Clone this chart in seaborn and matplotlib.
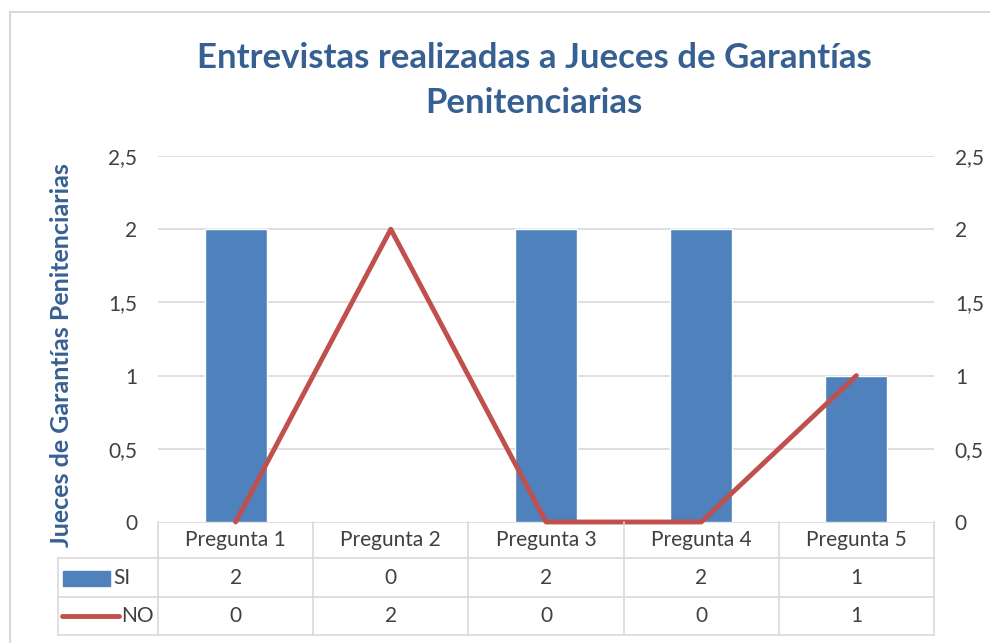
import numpy as np
import pandas as pd
import matplotlib
matplotlib.use("Agg")
import matplotlib.pyplot as plt
import seaborn as sns
from matplotlib.lines import Line2D
from matplotlib.patches import Rectangle

preguntas = ["Pregunta 1", "Pregunta 2", "Pregunta 3", "Pregunta 4", "Pregunta 5"]
si = [2, 0, 2, 2, 1]
no = [0, 2, 0, 0, 1]
yticks = [0, 0.5, 1, 1.5, 2, 2.5]
ytick_labels = ["0", "0,5", "1", "1,5", "2", "2,5"]

azul = "#4F81BD"
rojo = "#C0504D"
titulo_col = "#376092"
gris = "#D9D9D9"
texto = "#404040"

sns.set_style("white")
plt.rcParams["font.family"] = ["Lato", "DejaVu Sans"]

W, H = 990, 643
fig = plt.figure(figsize=(9.9, 6.43), dpi=100)
x0, x1, ybot, ytop = 158, 934, 522, 156
ax = fig.add_axes([x0 / W, 1 - ybot / H, (x1 - x0) / W, (ybot - ytop) / H])

df = pd.DataFrame({"pregunta": preguntas, "SI": si, "NO": no})
sns.barplot(data=df, x="pregunta", y="SI", color=azul, width=0.4, saturation=1, ax=ax)
ax.set_ylim(0, 2.5)
ax.set_xlim(-0.5, len(preguntas) - 0.5)
ax.set_yticks(yticks)
ax.set_yticklabels(ytick_labels, fontsize=15, color=texto)
ax.set_xticks([])
ax.set_xlabel("")
ax.set_ylabel("")
ax.tick_params(axis="y", length=0, pad=15)
for y in yticks[1:]:
    ax.axhline(y, color=gris, lw=1.2, zorder=0)
for s in ax.spines.values():
    s.set_visible(False)

ax2 = ax.twinx()
sns.lineplot(x=np.arange(len(no)), y=no, color=rojo, lw=3.5, ax=ax2)
for ln in ax2.lines:
    ln.set_clip_on(False)
ax2.set_ylim(0, 2.5)
ax2.set_yticks(yticks)
ax2.set_yticklabels(ytick_labels, fontsize=15, color=texto)
ax2.tick_params(axis="y", length=0, pad=15)
for s in ax2.spines.values():
    s.set_visible(False)

# tabla de datos
def fx(px):
    return px / W

def fy(py):
    return 1 - py / H

col_edges = np.linspace(x0, x1, len(preguntas) + 1)
rows = [522, 558, 597, 635]
leg_x = 58
lkw = dict(color=gris, lw=1.2, transform=fig.transFigure)
fig.add_artist(Line2D([fx(x0), fx(x1)], [fy(rows[0])] * 2, zorder=0, **lkw))
for r in rows[1:]:
    fig.add_artist(Line2D([fx(leg_x), fx(x1)], [fy(r)] * 2, **lkw))
for c in col_edges:
    fig.add_artist(Line2D([fx(c)] * 2, [fy(rows[0]), fy(rows[-1])], **lkw))
fig.add_artist(Line2D([fx(leg_x)] * 2, [fy(rows[1]), fy(rows[-1])], **lkw))

centers = (col_edges[:-1] + col_edges[1:]) / 2
row_c = [(rows[i] + rows[i + 1]) / 2 for i in range(3)]
for i, p in enumerate(preguntas):
    fig.text(fx(centers[i]), fy(row_c[0]), p, ha="center", va="center", fontsize=15, color=texto)
    fig.text(fx(centers[i]), fy(row_c[1]), str(si[i]), ha="center", va="center", fontsize=15, color=texto)
    fig.text(fx(centers[i]), fy(row_c[2]), str(no[i]), ha="center", va="center", fontsize=15, color=texto)

fig.add_artist(Rectangle((fx(63), fy(586)), (110 - 63) / W, 15 / H, color=azul, transform=fig.transFigure))
fig.text(fx(113), fy(row_c[1]), "SI", ha="left", va="center", fontsize=15, color=texto)
fig.add_artist(Line2D([fx(62), fx(119)], [fy(row_c[2])] * 2, color=rojo, lw=3.5,
                      solid_capstyle="round", transform=fig.transFigure))
fig.text(fx(121), fy(row_c[2]), "NO", ha="left", va="center", fontsize=15, color=texto)

# borde exterior
fig.add_artist(Line2D([fx(10), fx(10)], [fy(12), 0], color=gris, lw=1.5, transform=fig.transFigure))
fig.add_artist(Line2D([fx(10), 1], [fy(12), fy(12)], color=gris, lw=1.5, transform=fig.transFigure))

fig.text(fx(534), fy(58), "Entrevistas realizadas a Jueces de Garantías", ha="center", va="center",
         fontsize=25, fontweight="bold", color=titulo_col)
fig.text(fx(534), fy(103), "Penitenciarias", ha="center", va="center",
         fontsize=25, fontweight="bold", color=titulo_col)
fig.text(fx(62), fy(355), "Jueces de Garantías Penitenciarias", ha="center", va="center", rotation=90,
         fontsize=18, fontweight="bold", color=titulo_col)

fig.savefig("out.png", dpi=100)
